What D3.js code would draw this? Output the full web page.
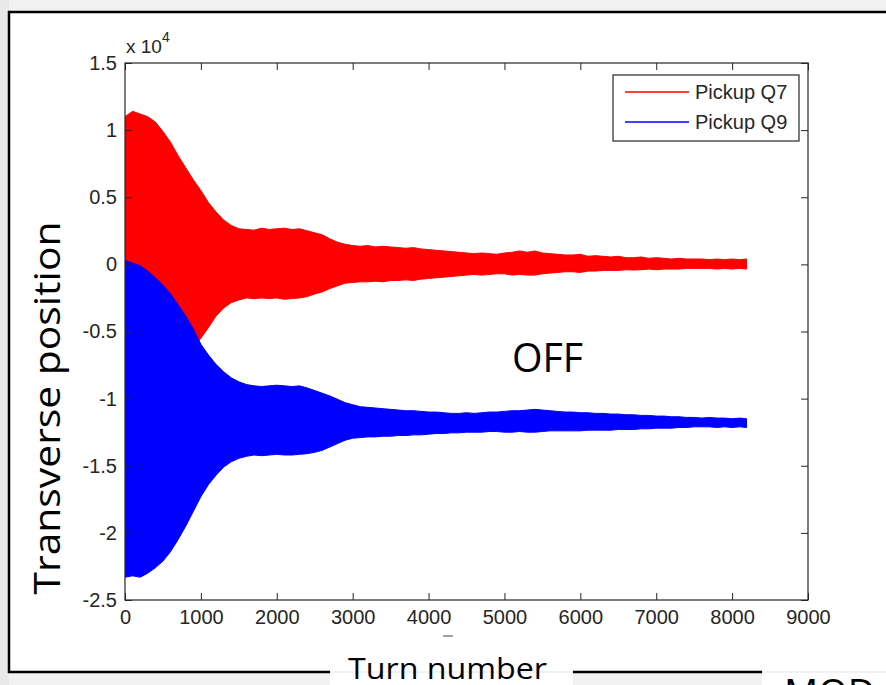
<!DOCTYPE html>
<html><head><meta charset="utf-8">
<script src="https://cdn.jsdelivr.net/npm/d3@7"></script>
<style>
body{margin:0;background:#f2f2f2;}
svg{display:block;}
</style>
</head><body>
<svg id="chart" width="886" height="685"></svg>
<script>
// ---------- data (position values in units of 1e4) ----------
const turns = [0,100,200,300,400,500,600,700,800,900,1000,1100,1200,1300,1400,1500,1600,1700,1800,1900,
  2000,2100,2200,2300,2400,2500,2600,2700,2800,2900,3000,3100,3200,3300,3400,3500,3600,3700,3800,3900,
  4000,4100,4200,4300,4400,4500,4600,4700,4800,4900,5000,5100,5200,5300,5400,5500,5600,5700,5800,5900,
  6000,6100,6200,6300,6400,6500,6600,6700,6800,6900,7000,7100,7200,7300,7400,7500,7600,7700,7800,7900,
  8000,8100,8190];
const q7Upper = [1.10,1.14,1.12,1.10,1.06,0.99,0.91,0.81,0.72,0.63,0.55,0.46,0.39,0.33,0.29,0.265,0.26,0.255,0.27,0.26,
  0.265,0.27,0.26,0.265,0.25,0.235,0.22,0.19,0.165,0.15,0.14,0.135,0.14,0.13,0.135,0.13,0.125,0.12,0.125,0.115,
  0.11,0.105,0.10,0.095,0.09,0.085,0.08,0.085,0.08,0.075,0.085,0.09,0.10,0.09,0.10,0.085,0.08,0.075,0.07,0.07,
  0.075,0.06,0.065,0.06,0.055,0.06,0.05,0.05,0.055,0.045,0.05,0.045,0.04,0.045,0.04,0.04,0.04,0.035,0.04,0.035,
  0.04,0.035,0.04];
const q7Lower = [-1.10,-1.12,-1.11,-1.08,-1.04,-0.97,-0.90,-0.80,-0.72,-0.62,-0.55,-0.47,-0.385,-0.325,-0.285,-0.265,-0.25,-0.255,-0.25,-0.255,
  -0.25,-0.26,-0.255,-0.25,-0.24,-0.22,-0.205,-0.18,-0.16,-0.14,-0.135,-0.13,-0.13,-0.125,-0.13,-0.12,-0.12,-0.115,-0.12,-0.11,
  -0.105,-0.10,-0.095,-0.09,-0.085,-0.08,-0.075,-0.08,-0.075,-0.07,-0.07,-0.08,-0.075,-0.08,-0.08,-0.07,-0.065,-0.06,-0.055,-0.055,
  -0.06,-0.05,-0.05,-0.045,-0.045,-0.045,-0.04,-0.042,-0.04,-0.035,-0.04,-0.035,-0.035,-0.035,-0.03,-0.03,-0.03,-0.03,-0.035,-0.03,
  -0.035,-0.03,-0.035];
const q9Upper = [0.03,0.01,-0.01,-0.05,-0.10,-0.155,-0.22,-0.30,-0.385,-0.48,-0.595,-0.675,-0.745,-0.80,-0.845,-0.875,-0.895,-0.905,-0.91,-0.905,
  -0.90,-0.905,-0.91,-0.905,-0.92,-0.94,-0.96,-0.98,-1.005,-1.03,-1.045,-1.06,-1.065,-1.07,-1.075,-1.08,-1.085,-1.09,-1.09,-1.095,
  -1.10,-1.10,-1.105,-1.11,-1.11,-1.105,-1.11,-1.105,-1.10,-1.10,-1.095,-1.09,-1.09,-1.085,-1.08,-1.085,-1.09,-1.095,-1.10,-1.10,
  -1.105,-1.105,-1.11,-1.11,-1.115,-1.115,-1.12,-1.12,-1.125,-1.125,-1.13,-1.13,-1.135,-1.135,-1.14,-1.14,-1.145,-1.14,-1.145,-1.145,
  -1.15,-1.145,-1.15];
const q9Lower = [-2.33,-2.32,-2.33,-2.30,-2.26,-2.21,-2.14,-2.05,-1.95,-1.84,-1.73,-1.64,-1.57,-1.51,-1.47,-1.445,-1.43,-1.42,-1.425,-1.42,
  -1.415,-1.42,-1.42,-1.415,-1.41,-1.40,-1.385,-1.36,-1.335,-1.31,-1.295,-1.29,-1.285,-1.285,-1.28,-1.28,-1.275,-1.275,-1.27,-1.27,
  -1.265,-1.26,-1.26,-1.255,-1.255,-1.25,-1.25,-1.25,-1.245,-1.245,-1.25,-1.25,-1.245,-1.25,-1.25,-1.245,-1.24,-1.24,-1.24,-1.24,
  -1.24,-1.235,-1.235,-1.235,-1.235,-1.23,-1.23,-1.23,-1.225,-1.225,-1.22,-1.22,-1.22,-1.215,-1.215,-1.21,-1.21,-1.21,-1.215,-1.21,
  -1.215,-1.21,-1.215];
const seriesNames = ["Pickup Q7","Pickup Q9"];
const seriesColors = ["#ff0000","#0000ff"];
const xTicks = [0,1000,2000,3000,4000,5000,6000,7000,8000,9000];
const xTickLabels = ["0","1000","2000","3000","4000","5000","6000","7000","8000","9000"];
const yTicks = [1.5,1,0.5,0,-0.5,-1,-1.5,-2,-2.5];
const yTickLabels = ["1.5","1","0.5","0","-0.5","-1","-1.5","-2","-2.5"];

// ---------- layout ----------
const svg = d3.select("#chart");
const L = 125, R = 808, T = 63, B = 600;
const x = d3.scaleLinear().domain([0,9000]).range([L,R]);
const y = d3.scaleLinear().domain([-2.5,1.5]).range([B,T]);

// slide frame
svg.append("rect").attr("x",0).attr("y",0).attr("width",9).attr("height",685).attr("fill","#e9e9e9");
svg.append("rect").attr("x",10).attr("y",13).attr("width",880).attr("height",658).attr("fill","#ffffff");
svg.append("line").attr("x1",8).attr("x2",886).attr("y1",12).attr("y2",12).attr("stroke","#000").attr("stroke-width",2.5);
svg.append("line").attr("x1",9).attr("x2",9).attr("y1",11).attr("y2",673).attr("stroke","#000").attr("stroke-width",2.5);
svg.append("line").attr("x1",8).attr("x2",330).attr("y1",672).attr("y2",672).attr("stroke","#000").attr("stroke-width",2.5);
svg.append("line").attr("x1",573).attr("x2",762).attr("y1",672).attr("y2",672).attr("stroke","#000").attr("stroke-width",2.5);
svg.append("rect").attr("x",330).attr("y",673).attr("width",243).attr("height",12).attr("fill","#ffffff");
svg.append("rect").attr("x",762).attr("y",673).attr("width",124).attr("height",12).attr("fill","#ffffff");

// clip
svg.append("clipPath").attr("id","plotclip").append("rect")
  .attr("x",L).attr("y",T).attr("width",R-L).attr("height",B-T);

const q7 = turns.map((t,i)=>({t, hi:q7Upper[i], lo:q7Lower[i]}));
const q9 = turns.map((t,i)=>({t, hi:q9Upper[i], lo:q9Lower[i]}));
const area = d3.area().x(d=>x(d.t)).y0(d=>y(d.lo)).y1(d=>y(d.hi));

const plot = svg.append("g").attr("clip-path","url(#plotclip)");
[q7,q9].forEach((s,i)=>{
  plot.append("path").datum(s).attr("d",area)
    .attr("fill",seriesColors[i]).attr("stroke",seriesColors[i]).attr("stroke-width",1);
});

// axes
const font = "'Liberation Sans', Arial, sans-serif";
const gx = svg.append("g").attr("transform",`translate(0,${B})`)
  .call(d3.axisBottom(x).tickValues(xTicks).tickFormat((d,i)=>xTickLabels[i]).tickSizeInner(-7).tickSizeOuter(0).tickPadding(10));
const gy = svg.append("g").attr("transform",`translate(${L},0)`)
  .call(d3.axisLeft(y).tickValues(yTicks).tickFormat((d,i)=>yTickLabels[i]).tickSizeInner(-7).tickSizeOuter(0).tickPadding(8));
const gt = svg.append("g").attr("transform",`translate(0,${T})`)
  .call(d3.axisTop(x).tickValues(xTicks).tickFormat("").tickSizeInner(-7).tickSizeOuter(0));
const gr = svg.append("g").attr("transform",`translate(${R},0)`)
  .call(d3.axisRight(y).tickValues(yTicks).tickFormat("").tickSizeInner(-7).tickSizeOuter(0));
[gx,gy,gt,gr].forEach(g=>{
  g.select(".domain").remove();
  g.selectAll("line").attr("stroke","#262626");
  g.selectAll("text").attr("font-family",font).attr("font-size",20).attr("fill","#262626");
});
svg.append("rect").attr("x",L).attr("y",T).attr("width",R-L).attr("height",B-T)
  .attr("fill","none").attr("stroke","#262626").attr("stroke-width",1.2);

// exponent label
const ex = svg.append("text").attr("x",126).attr("y",53).attr("font-family",font).attr("font-size",19).attr("fill","#262626");
ex.append("tspan").text("x 10");
ex.append("tspan").attr("dy",-11).attr("font-size",14).text("4");

// legend
const lg = svg.append("g");
lg.append("rect").attr("x",613).attr("y",75).attr("width",186).attr("height",66)
  .attr("fill","#fff").attr("stroke","#262626").attr("stroke-width",1.2);
seriesNames.forEach((n,i)=>{
  const yy = 92 + i*30;
  lg.append("line").attr("x1",625).attr("x2",689).attr("y1",yy).attr("y2",yy)
    .attr("stroke",seriesColors[i]).attr("stroke-width",1.3);
  lg.append("text").attr("x",695).attr("y",yy+7).attr("font-family",font).attr("font-size",20)
    .attr("fill","#262626").text(n);
});

// empty xlabel placeholder mark
svg.append("line").attr("x1",443).attr("x2",453).attr("y1",636).attr("y2",636).attr("stroke","#444").attr("stroke-width",1);

// slide texts
const sfont = "'Open Sans', 'Noto Sans', sans-serif";
svg.append("text").attr("x",512).attr("y",372).attr("font-family",sfont).attr("font-size",40)
  .attr("textLength",71).attr("lengthAdjust","spacingAndGlyphs").attr("fill","#000").text("OFF");
svg.append("text").attr("transform","translate(60,408) rotate(-90)").attr("text-anchor","middle")
  .attr("font-family",sfont).attr("font-size",36).attr("textLength",373).attr("lengthAdjust","spacingAndGlyphs")
  .attr("fill","#000").text("Transverse position");
svg.append("text").attr("x",348).attr("y",679).attr("font-family",sfont).attr("font-size",30)
  .attr("textLength",199).attr("lengthAdjust","spacingAndGlyphs").attr("fill","#000").text("Turn number");
svg.append("text").attr("x",784).attr("y",707).attr("font-family",sfont).attr("font-size",38)
  .attr("fill","#000").text("MOD");
</script>
</body></html>
